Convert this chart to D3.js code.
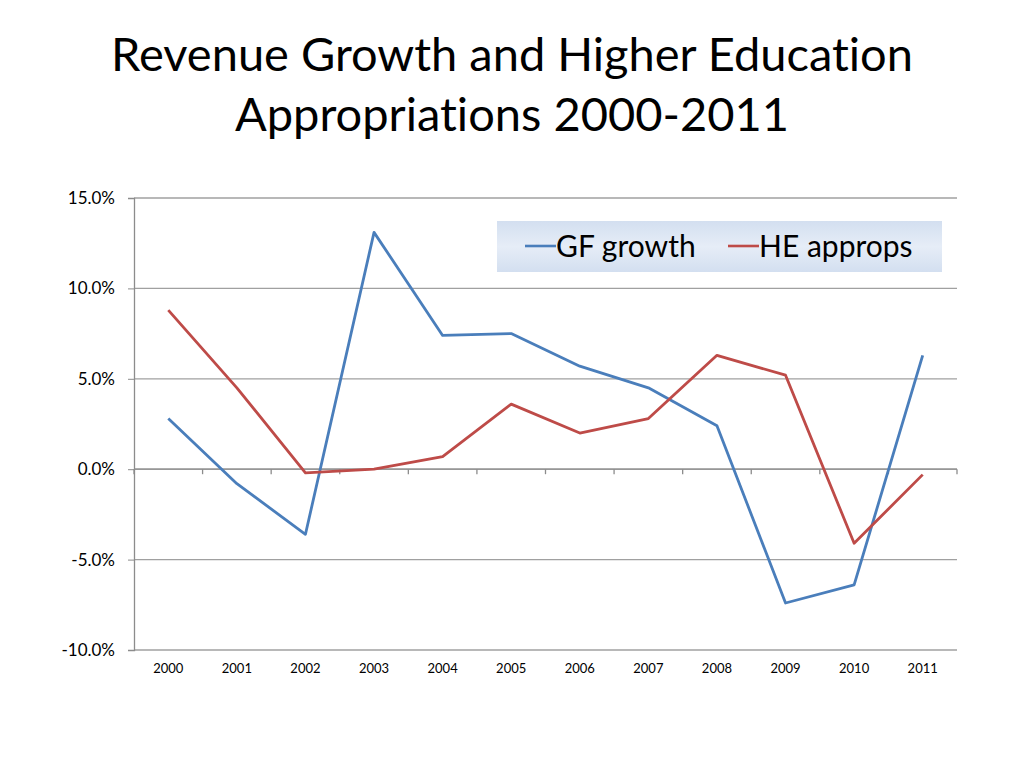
<!DOCTYPE html>
<html><head><meta charset="utf-8">
<script src="https://cdn.jsdelivr.net/npm/d3@7"></script>
<style>body{margin:0;background:#fff;}svg{display:block;font-family:Lato,"Open Sans",sans-serif;font-variant-ligatures:none;}</style>
</head><body>
<svg id="c" width="1024" height="768"></svg>
<script>
const years = ["2000","2001","2002","2003","2004","2005","2006","2007","2008","2009","2010","2011"];
const gfGrowth = [2.8,-0.8,-3.6,13.1,7.4,7.5,5.7,4.5,2.4,-7.4,-6.4,6.3];
const heApprops = [8.8,4.5,-0.2,0.0,0.7,3.6,2.0,2.8,6.3,5.2,-4.1,-0.3];
const yTicks = [-10,-5,0,5,10,15];
const seriesNames = ["GF growth","HE approps"];
const colors = ["#4a7ebb","#be4b48"];
const titleLines = ["Revenue Growth and Higher Education","Appropriations 2000-2011"];

const svg = d3.select("#c");
const L=134,R=957,T=198,B=650;
const x = d3.scaleBand().domain(years).range([L,R]);
const y = d3.scaleLinear().domain([-10,15]).range([B,T]);

svg.selectAll("text.title").data(titleLines).enter().append("text")
 .attr("x",512).attr("y",(d,i)=>71+i*60).attr("text-anchor","middle")
 .attr("font-size",47).attr("fill","#000").text(d=>d);

// gridlines
svg.append("g").selectAll("line").data(yTicks).enter().append("line")
 .attr("x1",L).attr("x2",R).attr("y1",d=>y(d)).attr("y2",d=>y(d))
 .attr("stroke","#a0a0a0").attr("stroke-width",1.3);

// y axis
const ya = svg.append("g").attr("transform",`translate(${L},0)`)
 .call(d3.axisLeft(y).tickValues(yTicks).tickSize(6).tickFormat(d=>d.toFixed(1)+"%"));
ya.select(".domain").attr("stroke","#8c8c8c").attr("stroke-width",1.3);
ya.selectAll(".tick line").attr("stroke","#8c8c8c");
ya.selectAll("text").attr("font-size",17).attr("fill","#000").attr("font-family","Lato,sans-serif").attr("dx",-10);

// x axis line at 0 with ticks between categories
const zero = y(0);
svg.append("line").attr("x1",L).attr("x2",R).attr("y1",zero).attr("y2",zero).attr("stroke","#8c8c8c").attr("stroke-width",1.3);
const bounds = years.map(d=>x(d)).concat([R]);
svg.append("g").selectAll("line").data(bounds).enter().append("line")
 .attr("x1",d=>d).attr("x2",d=>d).attr("y1",zero).attr("y2",zero+5).attr("stroke","#8c8c8c").attr("stroke-width",1.3);
svg.append("g").selectAll("text").data(years).enter().append("text")
 .attr("x",d=>x(d)+x.bandwidth()/2).attr("y",673).attr("text-anchor","middle")
 .attr("font-size",13).attr("fill","#000").text(d=>d);

// lines
const line = d3.line().x((d,i)=>x(years[i])+x.bandwidth()/2).y(d=>y(d));
[gfGrowth,heApprops].forEach((s,k)=>{
 svg.append("path").datum(s).attr("d",line).attr("fill","none")
  .attr("stroke",colors[k]).attr("stroke-width",2.8).attr("stroke-linejoin","round");
});

// legend
const defs = svg.append("defs");
const g = defs.append("linearGradient").attr("id","lg").attr("x1",0).attr("y1",0).attr("x2",0).attr("y2",1);
g.append("stop").attr("offset","0%").attr("stop-color","#d3dff0");
g.append("stop").attr("offset","50%").attr("stop-color","#e6edf7");
g.append("stop").attr("offset","100%").attr("stop-color","#d3dff0");
svg.append("rect").attr("x",497).attr("y",221).attr("width",445).attr("height",51).attr("fill","url(#lg)");
const lx=[525,728];
seriesNames.forEach((n,k)=>{
 svg.append("line").attr("x1",lx[k]).attr("x2",lx[k]+31).attr("y1",246).attr("y2",246)
  .attr("stroke",colors[k]).attr("stroke-width",2.6);
 svg.append("text").attr("x",lx[k]+31).attr("y",257).attr("font-size",30).attr("fill","#000").text(n);
});
</script>
</body></html>
